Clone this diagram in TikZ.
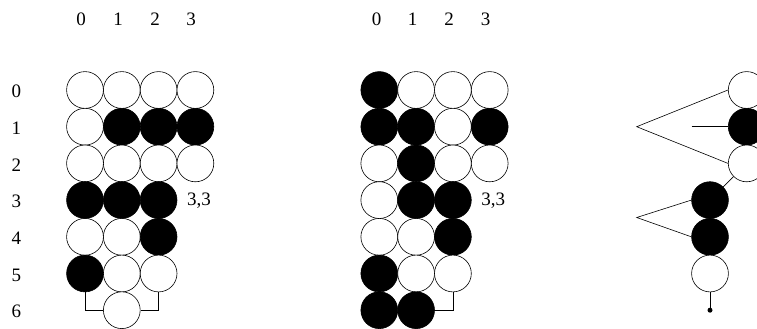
\documentclass[tikz,border=0pt]{standalone}
\usepackage{fontspec}
\setmainfont{Liberation Serif}
\begin{document}
\begin{tikzpicture}[x=1pt,y=-1pt,
  bead/.style={circle,draw,line width=0.6pt,minimum size=36.8pt,inner sep=0pt,fill=white},
  bb/.style={bead,fill=black},
  lab/.style={font=\fontsize{19}{19}\selectfont,inner sep=0pt},
  conn/.style={line width=0.6pt}]
\useasboundingbox (0,0) rectangle (757,329);
\clip (0,0) rectangle (757,329);
% left grid
\foreach \c/\x in {0/81,1/118,2/155,3/191} \node[lab] (LC\c) at (\x,19) {\c};
\foreach \r in {0,...,6} \node[lab] (LR\r) at (16.5,90+36.7*\r+1.5) {\r};
% row 0
\node[bead] (L00) at (85,90) {};
\node[bead] (L01) at (121.8,90) {};
\node[bead] (L02) at (158.6,90) {};
\node[bead] (L03) at (195.4,90) {};
% row 1
\node[bead] (L10) at (85,126.7) {};
\node[bb] (L11) at (121.8,126.7) {};
\node[bb] (L12) at (158.6,126.7) {};
\node[bb] (L13) at (195.4,126.7) {};
% row 2
\node[bead] (L20) at (85,163.4) {};
\node[bead] (L21) at (121.8,163.4) {};
\node[bead] (L22) at (158.6,163.4) {};
\node[bead] (L23) at (195.4,163.4) {};
% row 3
\node[bb] (L30) at (85,200.1) {};
\node[bb] (L31) at (121.8,200.1) {};
\node[bb] (L32) at (158.6,200.1) {};
\node[lab] (L33) at (199,201) {3,3};
% row 4
\node[bead] (L40) at (85,236.8) {};
\node[bead] (L41) at (121.8,236.8) {};
\node[bb] (L42) at (158.6,236.8) {};
% row 5
\node[bb] (L50) at (85,273.5) {};
\node[bead] (L51) at (121.8,273.5) {};
\node[bead] (L52) at (158.6,273.5) {};
% row 6
\node[bead] (L61) at (121.8,310.2) {};
\draw[conn] (L50.south) |- (L61.west);
\draw[conn] (L52.south) |- (L61.east);
% middle grid
\foreach \c/\x in {0/376.5,1/412.5,2/449,3/485.5} \node[lab] (MC\c) at (\x,19) {\c};
\node[bb] (M00) at (379.3,90) {};
\node[bead] (M01) at (416.1,90) {};
\node[bead] (M02) at (452.9,90) {};
\node[bead] (M03) at (489.7,90) {};
\node[bb] (M10) at (379.3,126.7) {};
\node[bb] (M11) at (416.1,126.7) {};
\node[bead] (M12) at (452.9,126.7) {};
\node[bb] (M13) at (489.7,126.7) {};
\node[bead] (M20) at (379.3,163.4) {};
\node[bb] (M21) at (416.1,163.4) {};
\node[bead] (M22) at (452.9,163.4) {};
\node[bead] (M23) at (489.7,163.4) {};
\node[bead] (M30) at (379.3,200.1) {};
\node[bb] (M31) at (416.1,200.1) {};
\node[bb] (M32) at (452.9,200.1) {};
\node[lab] (M33) at (493.3,201) {3,3};
\node[bead] (M40) at (379.3,236.8) {};
\node[bead] (M41) at (416.1,236.8) {};
\node[bb] (M42) at (452.9,236.8) {};
\node[bb] (M50) at (379.3,273.5) {};
\node[bead] (M51) at (416.1,273.5) {};
\node[bead] (M52) at (452.9,273.5) {};
\node[bb] (M60) at (379.3,310.2) {};
\node[bb] (M61) at (416.1,310.2) {};
\draw[conn] (M52.south) |- (M61.east);
% right part
\node[bead] (Ra) at (746.7,90) {};
\node[bb] (Rb) at (746.7,126.7) {};
\node[bead] (Rc) at (746.7,163.4) {};
\node[bb] (Rd) at (710,200.1) {};
\node[bb] (Re) at (710,236.8) {};
\node[bead] (Rf) at (710,273.5) {};
\node[circle,fill=black,inner sep=0pt,minimum size=5pt] (Rg) at (710,310.2) {};
\coordinate (T1) at (636.7,126.7);
\coordinate (H1) at (691.7,126.7);
\coordinate (T2) at (636.7,217.5);
\draw[conn] (Ra.west) -- (T1) -- (Rc.west);
\draw[conn] (H1) -- (Rb.west);
\draw[conn] (Rc) -- (Rd);
\draw[conn] (Rd.west) -- (T2) -- (Re.west);
\draw[conn] (Rf.south) -- (Rg);
\end{tikzpicture}
\end{document}
